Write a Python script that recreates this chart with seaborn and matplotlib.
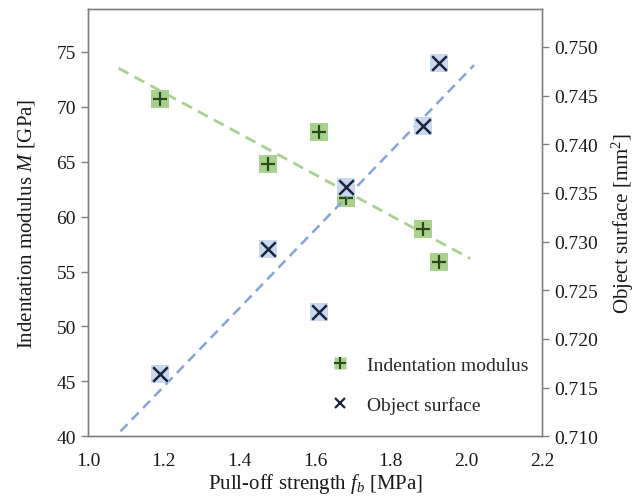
import numpy as np
import pandas as pd
import matplotlib
matplotlib.use("Agg")
import matplotlib.pyplot as plt
from matplotlib.lines import Line2D
import seaborn as sns

# ---- data ----
pull_off = [1.19, 1.476, 1.611, 1.681, 1.886, 1.928]
indentation_modulus = [70.7, 64.8, 67.7, 61.7, 58.9, 55.9]
object_surface = [0.7164, 0.7292, 0.7228, 0.7356, 0.7419, 0.7484]
trend_range_mod = [1.08, 2.01]
trend_range_surf = [1.085, 2.02]
x_ticks = [1.0, 1.2, 1.4, 1.6, 1.8, 2.0, 2.2]
left_ticks = [40, 45, 50, 55, 60, 65, 70, 75]
right_ticks = [0.710, 0.715, 0.720, 0.725, 0.730, 0.735, 0.740, 0.745, 0.750]

sns.set_theme(style="white")
plt.rcParams['font.family'] = ['Liberation Serif', 'DejaVu Serif']
plt.rcParams['mathtext.fontset'] = 'custom'
plt.rcParams['mathtext.rm'] = 'Liberation Serif'
plt.rcParams['mathtext.it'] = 'Liberation Serif:italic'

GRAY = '#808080'
G_FILL = '#a9d18e'
G_MARK = '#2a4a1c'
B_FILL = '#c9d8ee'
B_MARK = '#1a2340'
G_LINE = '#a9d18e'
B_LINE = '#86a3dc'

df = pd.DataFrame({'x': pull_off, 'M': indentation_modulus, 'S': object_surface})

fig = plt.figure(figsize=(6.4, 5.02), dpi=100)
ax = fig.add_axes([0.138, 0.129, 0.709, 0.851])
ax2 = ax.twinx()

# trend lines (least-squares linear fit)
pm = np.polyfit(df['x'], df['M'], 1)
ps = np.polyfit(df['x'], df['S'], 1)
tm = pd.DataFrame({'x': trend_range_mod, 'y': np.polyval(pm, trend_range_mod)})
ts = pd.DataFrame({'x': trend_range_surf, 'y': np.polyval(ps, trend_range_surf)})
sns.lineplot(data=tm, x='x', y='y', ax=ax, color=G_LINE, lw=2.0, dashes=False, zorder=2)
sns.lineplot(data=ts, x='x', y='y', ax=ax2, color=B_LINE, lw=1.8, dashes=False, zorder=2)
ax.lines[-1].set_dashes([4, 2.5])
ax2.lines[-1].set_dashes([4, 2.5])

# indentation modulus markers
sns.scatterplot(data=df, x='x', y='M', ax=ax, marker='s', s=170, color=G_FILL,
                edgecolor='none', zorder=3)
sns.scatterplot(data=df, x='x', y='M', ax=ax, marker='+', s=110, color=G_MARK,
                linewidth=1.6, zorder=4)
# object surface markers
sns.scatterplot(data=df, x='x', y='S', ax=ax2, marker='s', s=170, color=B_FILL,
                edgecolor='none', zorder=3)
sns.scatterplot(data=df, x='x', y='S', ax=ax2, marker='x', s=110, color=B_MARK,
                linewidth=1.8, zorder=4)

ax.set_xlim(1.0, 2.2)
ax.set_ylim(40, 78.9)
ax2.set_ylim(0.710, 0.7539)
ax.set_xticks(x_ticks)
ax.set_xticklabels([f"{v:.1f}" for v in x_ticks])
ax.set_yticks(left_ticks)
ax.set_yticklabels([str(v) for v in left_ticks])
ax2.set_yticks(right_ticks)
ax2.set_yticklabels([f"{v:.3f}" for v in right_ticks])

fs = 14
lfs = 15
ax.set_xlabel(r"Pull-off strength $f_b$ [MPa]", fontsize=lfs, labelpad=2)
ax.set_ylabel(r"Indentation modulus $M$ [GPa]", fontsize=lfs, labelpad=14)
ax2.set_ylabel(r"Object surface [mm$^2$]", fontsize=lfs, labelpad=8)

for a in (ax, ax2):
    for sp in a.spines.values():
        sp.set_color(GRAY)
        sp.set_linewidth(1.0)
    a.tick_params(axis='both', which='major', direction='out', length=5, width=1.0,
                  color=GRAY, labelsize=fs, labelcolor='#1a1a1a')
ax.tick_params(axis='x', pad=6)
ax.tick_params(axis='y', pad=4)
ax2.tick_params(axis='y', pad=4)
ax.xaxis.label.set_color('#1a1a1a')
ax.yaxis.label.set_color('#1a1a1a')
ax2.yaxis.label.set_color('#1a1a1a')

h1 = (Line2D([], [], marker='s', ls='none', ms=9, color=G_FILL, mec='none'),
      Line2D([], [], marker='+', ls='none', ms=8, color=G_MARK, mew=1.5))
h2 = (Line2D([], [], marker='s', ls='none', ms=9, color='white', mec='none'),
      Line2D([], [], marker='x', ls='none', ms=7, color=B_MARK, mew=1.6))
leg = ax2.legend([h1, h2], ['Indentation modulus', 'Object surface'], frameon=False,
                 loc='upper left', bbox_to_anchor=(0.511, 0.205), fontsize=fs,
                 labelspacing=1.15, handletextpad=0.8, handlelength=1.2,
                 borderaxespad=0)

fig.savefig('out.png', dpi=100)
